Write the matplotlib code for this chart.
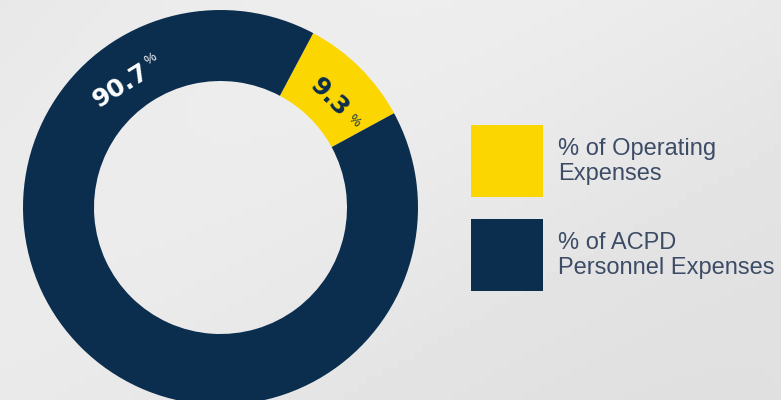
import numpy as np
import matplotlib
matplotlib.use("Agg")
import matplotlib.pyplot as plt
from matplotlib.patches import Rectangle

# ---- data ----
labels = ["% of Operating\nExpenses", "% of ACPD\nPersonnel Expenses"]
values = [9.3, 90.7]
value_text = ["9.3", "90.7"]
colors = ["#fcd600", "#0b2d4e"]
label_colors = ["#0b2d4e", "#ffffff"]

W, H = 781, 400
fig = plt.figure(figsize=(W / 100, H / 100), dpi=100)

# background (soft light-grey gradient)
bg = fig.add_axes([0, 0, 1, 1], zorder=0)
yy, xx = np.mgrid[0:1:50j, 0:1:100j]
grad = 0.91 + 0.02 * np.sin(xx * 3 + yy * 2) - 0.012 * yy
bg.imshow(grad, cmap="gray", vmin=0, vmax=1, aspect="auto", extent=[0, 1, 0, 1])
bg.set_axis_off()

# donut axes positioned in pixels
cx, cy, R = 220.5, 207.5, 197.5
r_in = 126.5
ax = fig.add_axes([(cx - R) / W, (H - cy - R) / H, 2 * R / W, 2 * R / H], zorder=1)

start = 62
wedges, _ = ax.pie(values, colors=colors, startangle=start, counterclock=False,
                   radius=1, wedgeprops=dict(width=(R - r_in) / R, linewidth=0))
ax.set_xlim(-1, 1)
ax.set_ylim(-1, 1)
ax.set_aspect("equal")
ax.set_axis_off()

NUMFONT = "DejaVu Sans"
FONT = "Liberation Sans"

def put_label(angle_deg, rad, rot, txt, col, pct_offset):
    a = np.deg2rad(angle_deg)
    x, y = rad * np.cos(a), rad * np.sin(a)
    ax.text(x, y, txt, color=col, fontsize=18, fontweight="bold",
            family=NUMFONT, rotation=rot, rotation_mode="anchor",
            ha="center", va="center")
    along, up = pct_offset
    t = np.deg2rad(rot)
    dx = along * np.cos(t) - up * np.sin(t)
    dy = along * np.sin(t) + up * np.cos(t)
    ax.text(x + dx, y + dy, "%", color=col, fontsize=9.5,
            family=FONT, rotation=rot, rotation_mode="anchor",
            ha="center", va="center")

mid_yellow = start - values[0] / 100 * 360 / 2
put_label(mid_yellow, 0.785, mid_yellow - 90, value_text[0], label_colors[0], (0.172, 0.0))
put_label(129.3, 0.795, 32, value_text[1], label_colors[1], (0.20, 0.035))

# legend (drawn manually in pixel space)
fs = 17
sq_x, sq_size = 471, 72
sq_tops = [125, 219]
for lab, col, top in zip(labels, colors, sq_tops):
    fig.patches.append(Rectangle((sq_x / W, 1 - (top + sq_size) / H), sq_size / W, sq_size / H,
                                 transform=fig.transFigure, facecolor=col,
                                 edgecolor="none", zorder=2))
    fig.text(558 / W, 1 - (top + sq_size / 2 + 0.5) / H, lab, ha="left", va="center",
             family=FONT, fontsize=fs, color="#3d4c66", linespacing=1.12, zorder=3)

fig.savefig("out.png", dpi=100)
